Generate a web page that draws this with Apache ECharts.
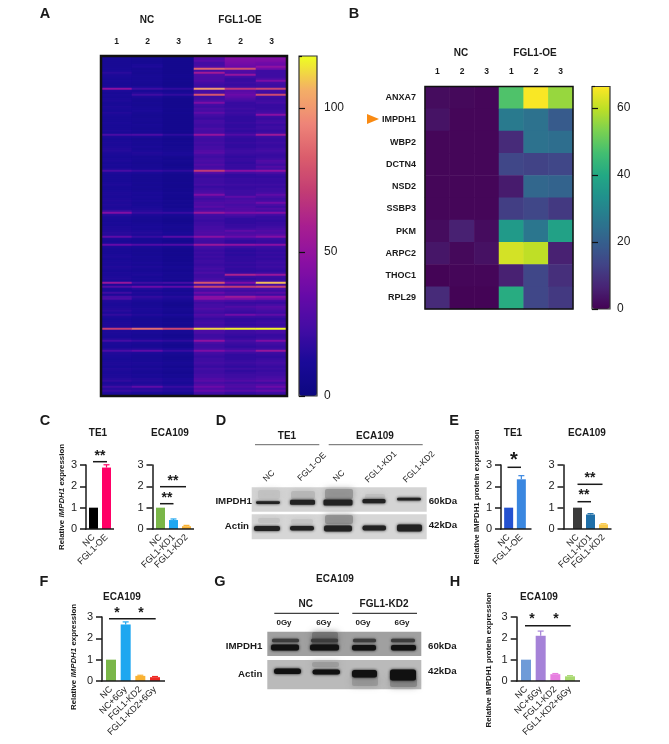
<!DOCTYPE html>
<html><head><meta charset="utf-8">
<style>html,body{margin:0;padding:0;background:#fff;overflow:hidden}#c{width:669px;height:744px}</style>
<script src="https://cdn.jsdelivr.net/npm/echarts@6/dist/echarts.min.js"></script>
</head><body><div id="c"></div>
<script>
// ---------- Panel A data (170 rows x 6 samples) ----------
const aNc1=[10,10,10,10,10,10,11,12,16,13,12,11,12,11,11,12,48,13,11,12,11,12,13,11,11,13,12,11,14,12,11,11,11,12,11,11,11,13,11,25,13,11,12,13,12,13,14,15,13,12,11,12,13,11,12,11,13,25,13,11,11,11,11,12,13,11,11,12,13,13,12,13,14,13,14,13,13,20,44,16,13,12,11,12,11,13,13,14,16,15,32,13,11,12,34,13,11,11,11,12,13,11,12,13,12,14,13,11,13,12,13,14,12,52,13,28,13,12,22,13,24,26,14,13,12,13,14,16,13,18,13,11,12,13,13,13,72,13,13,12,11,14,24,13,12,11,14,26,14,13,12,11,12,13,13,11,14,13,12,13,13,15,18,13,14,22,16,20,14,12];
const aNc2=[9,9,9,9,12,13,9,10,9,10,11,10,11,10,9,12,22,11,14,22,13,10,9,10,9,10,11,12,10,9,9,10,10,9,11,10,9,11,10,26,13,9,10,11,10,12,10,12,14,13,10,11,10,9,10,10,11,20,12,9,9,9,9,10,9,10,9,10,12,11,12,11,12,10,11,12,13,15,20,13,11,10,9,10,11,12,11,13,15,13,20,11,10,11,28,12,10,9,10,9,11,10,10,12,10,13,11,10,12,13,11,12,11,22,13,36,15,11,14,12,18,15,12,10,10,11,13,12,11,14,11,9,10,11,10,12,88,12,12,10,10,12,20,12,10,10,14,32,13,11,10,10,11,13,12,10,13,11,10,12,11,14,15,13,15,32,16,18,12,10];
const aNc3=[7,7,7,7,7,7,7,7,7,8,8,7,8,7,7,8,18,9,11,18,9,7,7,7,7,7,8,7,8,7,7,7,7,7,7,7,7,8,7,17,9,7,8,9,8,9,9,10,12,12,9,8,9,8,7,8,9,17,9,7,7,7,7,8,7,7,8,7,9,8,8,7,9,8,9,8,10,11,20,11,9,8,7,8,9,10,9,10,12,11,30,10,8,9,28,10,8,7,8,7,8,8,7,9,8,10,9,8,10,9,9,10,8,24,11,32,12,9,12,10,15,13,10,8,7,8,10,9,8,12,9,7,8,9,8,9,75,10,10,8,8,10,17,10,8,8,12,20,11,9,8,8,9,11,10,8,11,9,8,10,9,12,13,11,13,20,14,15,10,8];
const aOe1=[32,28,30,24,24,28,85,24,56,28,26,26,28,24,22,22,100,24,24,80,22,22,26,42,24,22,26,24,32,24,22,20,24,24,22,22,26,24,24,50,24,22,22,24,22,24,24,28,30,24,22,24,26,24,28,24,26,70,30,22,20,22,22,22,24,20,22,24,26,42,26,22,24,28,26,30,24,28,52,24,22,22,20,22,22,24,24,26,28,26,46,24,22,22,52,24,22,20,22,20,22,20,22,22,20,22,24,22,26,22,22,24,28,80,24,74,28,24,36,26,46,46,28,22,24,24,28,24,22,28,24,20,22,24,22,24,112,26,26,22,22,24,48,26,22,22,24,42,24,22,20,22,22,24,22,20,24,22,22,24,24,28,30,24,28,36,28,34,24,22];
const aOe2=[42,44,42,40,38,36,78,28,26,50,24,20,20,22,20,22,68,30,32,36,32,28,24,20,20,20,22,20,22,20,18,18,18,20,18,18,20,18,20,28,20,18,18,20,18,18,20,22,22,20,18,20,20,18,20,20,20,46,24,18,18,20,20,20,22,20,20,22,22,22,32,24,26,28,24,26,28,28,42,26,22,18,18,18,20,20,22,32,26,28,36,22,18,18,48,22,18,16,18,16,18,18,18,20,18,20,18,18,20,60,22,18,22,42,22,70,26,22,28,24,54,42,26,20,22,28,24,22,20,38,22,18,18,20,18,22,116,22,22,20,18,20,26,22,20,18,22,32,22,18,18,18,20,22,20,18,22,18,20,22,22,24,28,22,26,28,24,30,20,18];
const aOe3=[40,44,42,38,36,48,38,22,22,22,22,26,42,24,22,22,74,24,22,76,22,20,22,24,20,20,20,22,24,46,22,20,22,24,20,22,22,20,22,54,22,20,20,22,20,20,22,24,22,20,20,22,28,26,22,28,24,48,26,20,18,20,20,20,22,20,22,22,24,32,26,22,24,38,26,22,28,24,44,24,20,20,18,20,20,22,24,28,26,30,44,22,20,20,46,22,20,18,20,18,20,18,20,22,20,22,20,18,22,52,22,20,22,108,24,74,26,22,30,22,46,38,24,20,24,30,28,24,22,32,22,18,20,22,20,22,117,24,24,20,20,22,42,24,22,20,22,52,22,20,18,20,22,24,22,20,22,20,22,22,24,26,30,22,28,36,26,34,22,20];
const sampleLabels=['1','2','3','1','2','3'];
const aMax=118;

// ---------- Panel B data ----------
const bGenes=['ANXA7','IMPDH1','WBP2','DCTN4','NSD2','SSBP3','PKM','ARPC2','THOC1','RPL29'];
const bNc1=[2,3.5,1,1,1,1,2,4,0.5,8];
const bNc2=[1.5,1,1,1,1,1,6,1.5,1,0.5];
const bNc3=[1,1,1,1,1,1,2,3,1,0.5];
const bOe1=[48,27,8,14,5,12,36,62,6,41];
const bOe2=[66,25,25,13,22,14,26,60,14,14];
const bOe3=[56,19,24,14,21,11,38,6,9,11];
const bMax=66.4;

// ---------- Bar panel data ----------
const cTeCats=['NC','FGL1-OE'],    cTeVals=[1,2.88],          cTeErrs=[0,0.13];
const cEcaCats=['NC','FGL1-KD1','FGL1-KD2'], cEcaVals=[1,0.42,0.13], cEcaErrs=[0,0.05,0.04];
const eTeVals=[1,2.33],            eTeErrs=[0,0.17];
const eEcaVals=[1,0.68,0.22],      eEcaErrs=[0,0.04,0.03];
const radCats=['NC','NC+6Gy','FGL1-KD2','FGL1-KD2+6Gy'];
const fVals=[1,2.65,0.24,0.18],    fErrs=[0,0.12,0.03,0.03];
const hVals=[1,2.12,0.32,0.22],    hErrs=[0,0.22,0.03,0.03];
const yTicks3=3;

// ---------- Styles / layout ----------
const FONT='"Liberation Sans",Arial,sans-serif', INK='#1a1a1a';
const plasmaStops=['#0c0880','#1a0a98','#440ca4','#680aa8','#8c10a2','#a81e90','#c23c74','#da5c6c','#ee8478','#f4ae66','#eeff20'];
const viridisStops=['#440154','#482475','#414487','#355f8d','#2a788e','#21908d','#22a884','#42be71','#7ad151','#bddf26','#fde725'];

const grid=[],xAxis=[],yAxis=[],series=[],visualMap=[],graphic=[];

function txt(s,x,y,o={}){
  graphic.push({type:'text',x,y,rotation:o.rot||0,z:30,silent:true,style:{text:s,fill:o.fill||INK,
    font:`${o.w||'normal'} ${o.size||10}px ${FONT}`,align:o.align||'center',verticalAlign:'middle',rich:o.rich}});
}
function ln(x1,y1,x2,y2,w=1.5,c=INK){
  graphic.push({type:'line',z:25,silent:true,shape:{x1,y1,x2,y2},style:{stroke:c,lineWidth:w}});
}
function rect(x,y,w,h,fill,blur=0,r=0,op=1){
  graphic.push({type:'rect',z:20,silent:true,shape:{x,y,width:w,height:h,r},
    style:{fill,opacity:op,shadowBlur:blur,shadowColor:fill}});
}
function xyHeat(cfg){
  const g=grid.length, xi=xAxis.length, yi=yAxis.length;
  grid.push({left:cfg.l,top:cfg.t,width:cfg.w,height:cfg.h,show:true,z:5,backgroundColor:'transparent',borderColor:'#111',borderWidth:cfg.bw});
  xAxis.push({gridIndex:g,type:'category',position:'top',data:sampleLabels,
    axisLine:{show:false},axisTick:{alignWithLabel:true,length:7,lineStyle:{color:INK,width:1.5}},
    axisLabel:{interval:0,color:INK,fontFamily:FONT,fontWeight:'bold',fontSize:8.5,margin:10},splitLine:{show:false}});
  yAxis.push({gridIndex:g,type:'category',inverse:true,data:cfg.rows,show:cfg.showY,
    axisLine:{show:false},axisTick:{alignWithLabel:true,length:6,lineStyle:{color:INK,width:1.5}},
    axisLabel:{interval:0,color:INK,fontFamily:FONT,fontWeight:'bold',fontSize:9,margin:9},splitLine:{show:false}});
  const data=[];
  cfg.cols.forEach((col,c)=>col.forEach((v,r)=>data.push([c,r,v])));
  series.push({type:'heatmap',xAxisIndex:xi,yAxisIndex:yi,data,progressive:0,animation:false,silent:true,itemStyle:{borderWidth:0}});
  visualMap.push({type:'continuous',seriesIndex:series.length-1,min:0,max:cfg.max,show:true,calculable:false,hoverLink:false,realtime:false,
    left:cfg.cbL,top:cfg.t,itemWidth:cfg.cbW,itemHeight:cfg.h,padding:0,z:1,
    textStyle:{fontSize:1,color:'transparent'},inRange:{color:cfg.stops}});
  // colour bar frame and ticks
  const b=grid.length, bx=xAxis.length, by=yAxis.length;
  grid.push({left:cfg.cbL,top:cfg.t,width:cfg.cbW,height:cfg.h,show:true,z:5,backgroundColor:'transparent',borderColor:'#333',borderWidth:1.2});
  xAxis.push({gridIndex:b,type:'value',show:false,min:0,max:1});
  yAxis.push({gridIndex:b,type:'value',min:0,max:cfg.max,interval:cfg.tick,position:'right',z:6,offset:-3,
    axisLine:{show:false},axisTick:{length:3,lineStyle:{color:'#111',width:1.2}},
    axisLabel:{color:INK,fontFamily:FONT,fontSize:12,margin:10,showMinLabel:true,showMaxLabel:false},splitLine:{show:false}});
  yAxis.push({gridIndex:b,type:'value',min:0,max:cfg.max,interval:cfg.tick,position:'left',z:6,offset:-3,
    axisLine:{show:false},axisTick:{length:3,lineStyle:{color:'#111',width:1.2}},
    axisLabel:{show:false},splitLine:{show:false}});
  series.push({type:'line',xAxisIndex:bx,yAxisIndex:by,data:[],silent:true});
  series.push({type:'line',xAxisIndex:bx,yAxisIndex:by+1,data:[],silent:true});
}
function bars(cfg){
  const g=grid.length, xi=xAxis.length, yi=yAxis.length, y0=cfg.t+cfg.h;
  grid.push({left:cfg.catL,top:cfg.t,width:cfg.catR-cfg.catL,height:cfg.h});
  xAxis.push({gridIndex:g,type:'category',data:cfg.cats,axisLine:{show:false},
    axisTick:{alignWithLabel:true,length:5,lineStyle:{color:INK,width:1.5}},
    axisLabel:{interval:0,rotate:45,color:INK,fontFamily:FONT,fontSize:cfg.fs||9,margin:7},splitLine:{show:false}});
  yAxis.push({gridIndex:g,type:'value',min:0,max:yTicks3,interval:1,offset:cfg.catL-cfg.axL,
    axisLine:{show:true,onZero:false,lineStyle:{color:INK,width:1.5}},
    axisTick:{show:true,length:6,lineStyle:{color:INK,width:1.5}},
    axisLabel:{color:'#222',fontFamily:FONT,fontSize:11,margin:9},splitLine:{show:false}});
  series.push({type:'bar',xAxisIndex:xi,yAxisIndex:yi,barWidth:cfg.bw,silent:true,animation:false,
    data:cfg.vals.map((v,i)=>({value:v,itemStyle:{color:cfg.colors[i]}}))});
  series.push({type:'custom',xAxisIndex:xi,yAxisIndex:yi,silent:true,animation:false,encode:{x:0,y:1},
    data:cfg.vals.map((v,i)=>[i,v,cfg.errs[i]]),
    renderItem(p,api){
      const e=api.value(2); if(!e) return;
      const a=api.coord([api.value(0),api.value(1)]), b=api.coord([api.value(0),api.value(1)+e]);
      const c=cfg.colors[p.dataIndex], s={stroke:c,lineWidth:1.2};
      return {type:'group',children:[
        {type:'line',shape:{x1:a[0],y1:a[1],x2:b[0],y2:b[1]},style:s},
        {type:'line',shape:{x1:a[0]-3,y1:b[1],x2:a[0]+3,y2:b[1]},style:s}]};
    }});
  ln(cfg.axL-0.75,y0,cfg.axR,y0);
}

// Heat maps
xyHeat({l:101,t:56,w:186,h:340,bw:2.5,rows:aNc1.map((_,i)=>String(i)),showY:false,
  cols:[aNc1,aNc2,aNc3,aOe1,aOe2,aOe3],max:aMax,tick:50,cbL:299,cbW:18,stops:plasmaStops});
xyHeat({l:425,t:86.5,w:148,h:222.5,bw:1.5,rows:bGenes,showY:true,
  cols:[bNc1,bNc2,bNc3,bOe1,bOe2,bOe3],max:bMax,tick:20,cbL:592,cbW:18,stops:viridisStops});

// Bars
const C_COLS=['#000000','#ff0066'], RGB=['#7ab648','#1ea7f0','#f9b233'], E_L=['#2451d0','#3a87e0'], E_R=['#3b3b3b','#1f6fa8','#f8c94a'];
bars({cats:cTeCats,vals:cTeVals,errs:cTeErrs,colors:C_COLS,axL:86,axR:114,catL:87,catR:113,t:465,h:64,bw:9});
bars({cats:cEcaCats,vals:cEcaVals,errs:cEcaErrs,colors:RGB,axL:152.5,axR:194,catL:154,catR:193,t:465,h:64,bw:9});
bars({cats:cTeCats,vals:eTeVals,errs:eTeErrs,colors:E_L,axL:501,axR:531.5,catL:502.3,catR:527.7,t:465,h:64,bw:9});
bars({cats:cEcaCats,vals:eEcaVals,errs:eEcaErrs,colors:E_R,axL:563.5,axR:611.5,catL:571,catR:610,t:465,h:64,bw:9});
bars({cats:radCats,vals:fVals,errs:fErrs,colors:['#7ab648','#1ea7f0','#f9b233','#ee2a24'],axL:102,axR:165,catL:103.7,catR:162.3,t:617,h:64,bw:10});
bars({cats:radCats,vals:hVals,errs:hErrs,colors:['#6f9bd8','#a582d8','#e77fe0','#a8d86f'],axL:516.7,axR:580,catL:518.7,catR:577.3,t:617,h:64,bw:10});

// Panel letters
[['A',45,14],['B',354,14],['C',45,421],['D',221,421],['E',454,421],['F',44,582],['G',220,582],['H',455,582]]
  .forEach(a=>txt(a[0],a[1],a[2],{w:'bold',size:14.5}));
// Heat titles
txt('NC',147,20,{w:'bold'});txt('FGL1-OE',240,20,{w:'bold'});
txt('NC',461,53,{w:'bold'});txt('FGL1-OE',535,53,{w:'bold'});
graphic.push({type:'polygon',z:25,silent:true,shape:{points:[[367,114],[379,119],[367,124]]},style:{fill:'#f98a12'}});
// Bar titles
[['TE1',98,433],['ECA109',170,433],['TE1',513,433],['ECA109',587,433],['ECA109',122,597],['ECA109',539,597]]
  .forEach(a=>txt(a[0],a[1],a[2],{w:'bold'}));
// Y titles
const italicRich={b:{font:`bold 7.9px ${FONT}`,fill:INK},i:{font:`italic bold 7.9px ${FONT}`,fill:INK}};
const yMRNA='{b|Relative }{i|IMPDH1}{b| expression}', yProt='{b|Relative IMPDH1 protein expression}';
txt(yMRNA,62,497,{rot:Math.PI/2,rich:italicRich});
txt(yProt,477,497,{rot:Math.PI/2,rich:italicRich});
txt(yMRNA,74,657,{rot:Math.PI/2,rich:italicRich});
txt(yProt,489,660,{rot:Math.PI/2,rich:italicRich});
// Significance marks
function sig(s,x,y,size=14){txt(s,x,y+size*0.15,{w:'bold',size});}
ln(93,461.7,107,461.7);sig('**',100,454);
ln(160,486.7,186,486.7);sig('**',173,479);
ln(160,503.7,173.5,503.7);sig('**',167,496);
ln(507.5,467.3,521,467.3);sig('*',514,457,20);
ln(577.5,484.3,602.5,484.3);sig('**',590,476);
ln(577.5,501.7,591,501.7);sig('**',584,493);
ln(109,618.7,155.7,618.7);sig('*',117,610.7);sig('*',141,610.7);
ln(525,625.7,570.7,625.7);sig('*',532,617);sig('*',556,617);

// ---------- Panel D blot ----------
txt('TE1',287,436,{w:'bold'});ln(255,444.7,319.3,444.7,1,'#666');
txt('ECA109',375,436,{w:'bold'});ln(328.7,444.7,422.7,444.7,1,'#666');
[['NC',269,476],['FGL1-OE',312,467],['NC',339,476],['FGL1-KD1',381,467],['FGL1-KD2',419,467]]
  .forEach(a=>txt(a[0],a[1],a[2],{size:8.5,rot:Math.PI/4}));
rect(251.7,487.3,175,24.4,'#d4d4d4');rect(251.7,514.3,175,25,'#d6d6d6');
rect(258,490,22,9,'#bdbdbd',6,2,.7);rect(291,491,24,8,'#b0b0b0',6,2,.7);rect(325,489,28,10,'#8e8e8e',6,2,.8);rect(365,494,20,5,'#bbbbbb',5,2,.7);
rect(325,515,28,9,'#8a8a8a',6,2,.8);rect(258,518,22,5,'#bdbdbd',5,2,.7);rect(291,519,22,5,'#c0c0c0',5,2,.7);
[[256,501.3,24,2.6],[290,499.8,25,5],[323.5,499.5,29,6],[362.5,499,23,4.2],[397,497.8,24,2.8]]
  .forEach(b=>rect(b[0],b[1],b[2],b[3],'#222',3,1.5));
[[254,526,26,5],[290,526,24,4.5],[324,525.5,28,6],[362.5,525.5,23.5,5],[397,524.5,25,7]]
  .forEach(b=>rect(b[0],b[1],b[2],b[3],'#222',3,2));
txt('IMPDH1',252,501,{w:'bold',align:'right',size:9.7});txt('Actin',249,526,{w:'bold',align:'right',size:9.7});
txt('60kDa',428.7,501,{w:'bold',align:'left',size:9.7});txt('42kDa',428.7,525.5,{w:'bold',align:'left',size:9.7});

// ---------- Panel G blot ----------
txt('ECA109',335,579,{w:'bold'});
txt('NC',305.7,604.7,{w:'bold',size:10});ln(274.3,613.3,339,613.3,1,'#111');
txt('FGL1-KD2',384,604.7,{w:'bold',size:10});ln(352.3,613.3,417,613.3,1,'#111');
[['0Gy',284],['6Gy',323.7],['0Gy',363],['6Gy',402]].forEach(a=>txt(a[0],a[1],622.7,{w:'bold',size:8}));
rect(267.3,631.7,154,24.3,'#a0a0a0');rect(267.3,660,154,29.3,'#bababa');
rect(312,632,26,13,'#6a6a6a',6,2,.7);
[[272,638.8,27,3.5],[311,638.8,27,3.5],[353,638.8,23,3.5],[391,638.8,24,3.5]]
  .forEach(b=>rect(b[0],b[1],b[2],b[3],'#3c3c3c',2.5,1.5));
[[271,644.5,28,6],[310,644.5,29,6],[352,645,24,5.5],[391,645,25,5.5]]
  .forEach(b=>rect(b[0],b[1],b[2],b[3],'#111',3,2));
rect(352,676,26,10,'#8a8a8a',6,2,.6);rect(390,678,27,9,'#7a7a7a',6,2,.7);rect(312,662,27,5,'#8a8a8a',6,2,.5);
[[274,668.5,27,5.5],[312.5,669.5,27.5,5],[352,670,25,7.5],[390,669.5,26,11]]
  .forEach(b=>rect(b[0],b[1],b[2],b[3],'#111',3,2.5));
txt('IMPDH1',262.3,646,{w:'bold',align:'right',size:9.7});txt('Actin',262.3,674.3,{w:'bold',align:'right',size:9.7});
txt('60kDa',428,646,{w:'bold',align:'left',size:9.7});txt('42kDa',428,671.7,{w:'bold',align:'left',size:9.7});

const chart=echarts.init(document.getElementById('c'),null,{renderer:'canvas'});
chart.setOption({animation:false,backgroundColor:'#ffffff',tooltip:{show:false},textStyle:{fontFamily:FONT},
  grid,xAxis,yAxis,series,visualMap,graphic:{elements:graphic}});
</script></body></html>
